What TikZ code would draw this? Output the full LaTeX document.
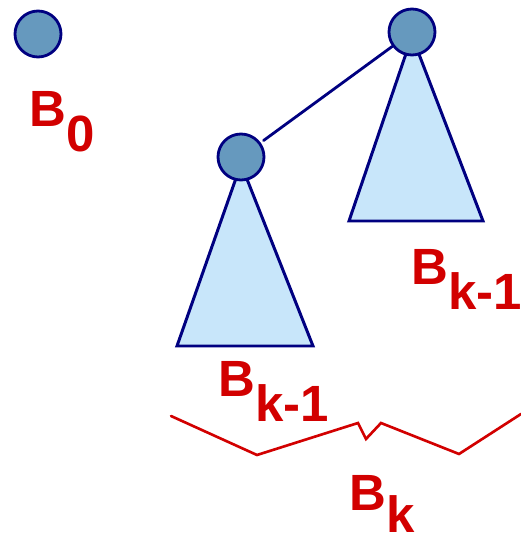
\documentclass[tikz,border=0pt]{standalone}
\usepackage{fontspec}
\setmainfont{Liberation Sans}
\usetikzlibrary{positioning}
\definecolor{heapred}{RGB}{210,0,0}
\definecolor{heapnavy}{RGB}{0,0,128}
\definecolor{heapball}{RGB}{102,153,190}
\definecolor{heapfill}{RGB}{200,230,250}
\tikzset{
  every picture/.append style={line cap=round,line join=round},
  heap root/.style={circle,draw=heapnavy,fill=heapball,line width=1.6pt,minimum size=0.92cm,inner sep=0pt},
  heap subtree/.style={draw=heapnavy,fill=heapfill,line width=1.7pt,line join=miter},
  heap link/.style={heapnavy,line width=1.6pt,shorten <=2pt},
  heap brace/.style={heapred,line width=1.5pt,line join=miter},
  heap label/.style={heapred,font=\fontsize{29}{34}\selectfont\bfseries,inner sep=0pt,anchor=base west}
}
\newcommand{\treename}[2][0.5cm]{B\raisebox{-#1}{#2}}

\begin{document}
\begin{tikzpicture}
  \useasboundingbox (0,0) rectangle (10.42,10.82);
  % B_0 on its own
  \node[heap label] (b0 name) at (0.58,8.28) {\treename{0}};
  \node[heap root] (b0) at (0.76,10.14) {};
  % B_k built from two copies of B_{k-1}
  \draw[heap subtree] (8.24,10.10) -- (9.66,6.40) -- (6.98,6.40) -- cycle;
  \draw[heap subtree] (4.82,7.54) -- (6.26,3.90) -- (3.54,3.90) -- cycle;
  \node[heap root] (top root) at (8.24,10.18) {};
  \node[heap root] (sub root) at (4.82,7.68) {};
  \draw[heap link] (sub root) -- (top root);
  \node[heap label] (top name) at (8.22,5.12) {\treename{k-1}};
  \node[heap label] (sub name) at (4.36,2.88) {\treename{k-1}};
  % brace under the whole tree
  \draw[heap brace] (3.42,2.50) -- (5.14,1.72) -- (7.16,2.36) -- (7.32,2.04)
    -- (7.62,2.36) -- (9.18,1.74) -- (10.42,2.54);
  \node[heap label] (bk name) at (6.98,0.60) {\treename[0.44cm]{k}};
\end{tikzpicture}
\end{document}
